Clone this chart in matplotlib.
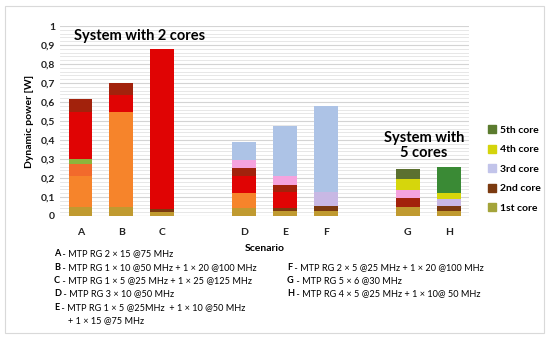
import matplotlib.pyplot as plt
import numpy as np
from matplotlib.patches import Patch, Rectangle

plt.rcParams['font.family'] = ['Lato', 'DejaVu Sans']

# scenarios and their slot on the x axis (gaps between core groups)
scenarios = ['A', 'B', 'C', 'D', 'E', 'F', 'G', 'H']
slots = [0, 1, 2, 4, 5, 6, 8, 9]

# stacked layers, bottom to top, values per scenario [W]
ochre      = [0.045, 0.045, 0.022, 0.040, 0.026, 0.028, 0.046, 0.028]
brown_low  = [0.000, 0.000, 0.015, 0.000, 0.014, 0.026, 0.000, 0.026]
orange     = [0.165, 0.505, 0.000, 0.083, 0.000, 0.000, 0.000, 0.000]
dark_orng  = [0.065, 0.000, 0.000, 0.000, 0.000, 0.000, 0.000, 0.000]
lt_green   = [0.025, 0.000, 0.000, 0.000, 0.000, 0.000, 0.000, 0.000]
red        = [0.250, 0.085, 0.843, 0.087, 0.088, 0.000, 0.000, 0.000]
dark_red   = [0.065, 0.065, 0.000, 0.044, 0.035, 0.000, 0.047, 0.000]
lavender   = [0.000, 0.000, 0.000, 0.000, 0.000, 0.071, 0.000, 0.034]
pink       = [0.000, 0.000, 0.000, 0.041, 0.047, 0.000, 0.044, 0.000]
lt_blue    = [0.000, 0.000, 0.000, 0.095, 0.264, 0.454, 0.000, 0.000]
yellow     = [0.000, 0.000, 0.000, 0.000, 0.000, 0.000, 0.056, 0.035]
olive      = [0.000, 0.000, 0.000, 0.000, 0.000, 0.000, 0.053, 0.000]
green      = [0.000, 0.000, 0.000, 0.000, 0.000, 0.000, 0.000, 0.137]

layers = [ochre, brown_low, orange, dark_orng, lt_green, red, dark_red,
          lavender, pink, lt_blue, yellow, olive, green]
colors = ['#c09a30', '#7b3a10', '#f6842b', '#f26a2c', '#8db43c', '#e00404',
          '#a2220c', '#c8b8e4', '#f5a3de', '#adc3e6', '#d6d60c', '#5b7030',
          '#3a8a35']

legend_names = ['5th core', '4th core', '3rd core', '2nd core', '1st core']
legend_colors = ['#5b7b2e', '#d4d40c', '#c2c4ea', '#7b3a10', '#a4a43a']

descr_left = [('A', ' - MTP RG 2 × 15 @75 MHz'),
              ('B', ' - MTP RG 1 × 10 @50 MHz + 1 × 20 @100 MHz'),
              ('C', ' - MTP RG 1 × 5 @25 MHz + 1 × 25 @125 MHz'),
              ('D', ' - MTP RG 3 × 10 @50 MHz'),
              ('E', ' - MTP RG 1 × 5 @25MHz  + 1 × 10 @50 MHz')]
descr_right = [('F', ' - MTP RG 2 × 5 @25 MHz + 1 × 20 @100 MHz'),
               ('G', ' - MTP RG 5 × 6 @30 MHz'),
               ('H', ' - MTP RG 4 × 5 @25 MHz + 1 × 10@ 50 MHz')]

fig = plt.figure(figsize=(5.5, 3.38), dpi=100)
ax = fig.add_axes([0.109, 0.361, 0.744, 0.562])

bottom = np.zeros(len(scenarios))
for vals, c in zip(layers, colors):
    ax.bar(slots, vals, bottom=bottom, width=0.58, color=c, zorder=3)
    bottom += np.array(vals)

ax.set_xlim(-0.5, 9.5)
ax.set_ylim(0, 1)
ax.set_yticks(np.arange(0, 1.01, 0.1))
ax.set_yticklabels(['0'] + ['0,%d' % i for i in range(1, 10)] + ['1'],
                   fontsize=7.5, fontweight='bold', color='#222222')
ax.set_yticks(np.arange(0, 1.0, 0.02), minor=True)
ax.set_xticks(slots)
ax.set_xticklabels(scenarios, fontsize=7.5, fontweight='bold', color='#222222')
ax.tick_params(axis='both', which='both', length=0)
ax.tick_params(axis='x', pad=9)
ax.grid(axis='y', which='major', color='#d4d4d4', lw=0.8, zorder=0)
ax.grid(axis='y', which='minor', color='#e3e3e3', lw=0.6, zorder=0)
for s in ax.spines.values():
    s.set_visible(False)
ax.axhline(0, color='#d0d0d0', lw=0.8, zorder=2)

ax.set_ylabel('Dynamic power [W]', fontsize=7.5, fontweight='bold', labelpad=5)
ax.set_xlabel('Scenario', fontsize=7.5, fontweight='bold', labelpad=5)

ax.text(-0.15, 0.947, 'System with 2 cores', fontsize=10.5, fontweight='bold',
        ha='left', va='center', zorder=5)
ax.text(8.4, 0.37, 'System with\n5 cores', fontsize=10.5, fontweight='bold',
        ha='center', va='center', linespacing=1.1, zorder=5)

handles = [Patch(color=c) for c in legend_colors]
fig.legend(handles, legend_names, loc='center left', bbox_to_anchor=(0.87, 0.5),
           frameon=False, prop={'size': 7.5, 'weight': 'bold'},
           handlelength=0.8, handleheight=0.8, handletextpad=0.4,
           labelspacing=0.95)

# scenario descriptions below the chart
fs = 6.6
line_h = 13.3 / 338
y0 = 1 - 254 / 338
for i, (k, rest) in enumerate(descr_left):
    t = fig.text(54 / 550, y0 - i * line_h, k, fontsize=fs, fontweight='bold',
                 va='center')
    ax.annotate(rest, xy=(1, 0), xycoords=t, fontsize=fs, va='bottom',
                annotation_clip=False)
fig.text(68 / 550, y0 - 5 * line_h, '+ 1 × 15 @75 MHz', fontsize=fs, va='center')
for i, (k, rest) in enumerate(descr_right):
    t = fig.text(287 / 550, y0 - (i + 1) * line_h, k, fontsize=fs,
                 fontweight='bold', va='center')
    ax.annotate(rest, xy=(1, 0), xycoords=t, fontsize=fs, va='bottom',
                annotation_clip=False)

fig.patches.append(Rectangle((5 / 550, 5 / 338), 539 / 550, 327 / 338,
                             transform=fig.transFigure, fill=False,
                             edgecolor='#d9d9d9', lw=0.8))

fig.savefig('out.png', dpi=100)
